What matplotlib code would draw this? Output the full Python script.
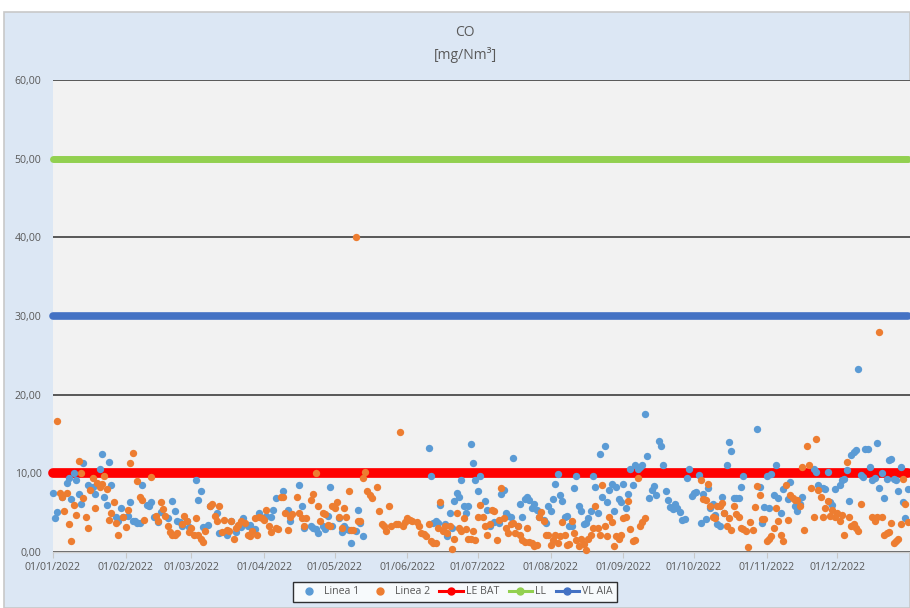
import numpy as np
import pandas as pd
import matplotlib
matplotlib.use("Agg")
import matplotlib.pyplot as plt
import matplotlib.dates as mdates
from matplotlib.lines import Line2D
from matplotlib.patches import Rectangle

plt.rcParams['font.family'] = ['Open Sans', 'DejaVu Sans']

# ---------------- data ----------------
YEAR_START = "2022-01-01"
AXIS_END = "2023-01-01"

# Linea 1 (day of year offset from 01/01/2022, value mg/Nm3)
linea1_day = [0, 1, 2, 4, 6, 7, 8, 9, 10, 11, 12, 13, 15, 17, 18, 20, 21, 22, 23, 24, 25, 27, 28, 29, 30,
              32, 33, 34, 35, 36, 37, 38, 40, 41, 42, 43, 45, 46, 49, 51, 52, 53, 54, 55, 57, 58,
              61, 62, 63, 64, 66, 67, 70, 71, 74, 76, 78, 80, 81, 83, 84, 86, 88, 91, 93, 94, 95, 98,
              100, 101, 105, 106, 107, 110, 111, 112, 113, 115, 116, 117, 118,
              119, 122, 123, 124, 125, 126, 127, 129, 130, 131, 132,
              160, 161, 162, 163, 164, 165, 167, 168, 169, 170, 171, 172, 173, 174, 175, 176, 177, 178,
              179, 180, 181, 182, 184, 185, 186, 188, 190, 191, 192, 193, 194, 195, 196, 198, 199, 200,
              201, 202, 203, 204, 205, 206, 207, 209, 210, 211, 212, 213, 214, 215, 216, 217, 218, 219,
              220, 221, 222, 223, 224, 225, 226, 227, 228, 229, 230, 231, 232, 233, 234, 235, 236, 237,
              238, 239, 240, 241, 242, 243, 244, 245, 246, 247, 248, 249, 250, 251, 252, 253, 254, 255,
              256, 257, 258, 259, 260, 261, 262, 263, 264, 265, 266, 267, 268, 269, 270, 271, 272, 273,
              274, 275, 276, 277, 278, 279, 280, 281, 282, 283, 284, 285, 286, 287, 288, 289, 290, 291,
              292, 293, 294, 300, 301, 302, 303, 304,
              305, 306, 307, 308, 309, 310, 311, 313, 314, 316, 317, 318, 319, 324, 325, 326, 328, 329,
              330, 331, 332, 333, 335, 336, 337, 338, 339, 340, 341, 342, 343, 344, 345, 346, 347, 348,
              349, 350, 351, 352, 353, 354, 355, 356, 357, 358, 359, 360, 361, 362, 363, 364]
linea1_val = [7.5, 4.3, 5.1, 7.0, 8.8, 9.4, 6.7, 10.0, 9.1, 7.4, 6.1, 11.3, 8.5, 8.2, 7.4, 10.5, 12.5, 7.0, 6.0, 11.4, 8.5, 4.4, 4.0, 5.6, 4.4,
              4.6, 6.4, 4.0, 3.9, 3.7, 3.7, 8.5, 6.0, 5.8, 6.4, 4.4, 3.8, 5.1, 4.3, 6.5, 5.2, 4.0, 3.8, 3.3, 3.9, 3.2,
              9.2, 6.6, 7.8, 3.2, 3.4, 5.8, 4.9, 2.4, 2.2, 4.0, 2.6, 3.2, 4.3, 3.3, 3.4, 2.9, 4.9, 4.6, 4.4, 5.3, 6.9, 7.8,
              5.4, 4.0, 8.5, 5.8, 3.1, 3.3, 3.1, 2.9, 2.4, 3.3, 2.9, 4.6, 8.2,
              3.3, 4.3, 2.6, 3.3, 2.9, 2.8, 1.1, 2.7, 5.4, 3.7, 2.0,
              13.2, 9.6, 3.7, 3.9, 3.7, 6.0, 3.5, 2.0, 4.9, 3.1, 6.5, 7.5, 7.0, 9.1, 5.8, 4.9, 5.8, 13.7,
              11.3, 9.1, 7.8, 9.6, 6.5, 5.4, 3.3, 3.8, 3.7, 7.4, 7.9, 4.9, 4.6, 4.5, 11.9, 3.3, 6.1, 4.5,
              6.8, 7.0, 6.6, 5.6, 6.1, 5.4, 4.5, 4.1, 3.7, 5.8, 5.2, 6.8, 8.6, 9.9, 7.2, 6.5, 4.4, 4.6,
              3.3, 3.3, 8.1, 9.6, 5.8, 5.2, 3.5, 3.7, 4.3, 5.2, 9.6, 8.2, 4.9, 12.5, 7.0, 13.5, 6.4, 7.9,
              8.7, 5.2, 8.2, 6.8, 6.4, 8.6, 5.6, 7.4, 10.6, 8.5, 11.1, 10.5, 10.8, 11.1, 17.6, 12.2, 6.9, 7.9,
              8.4, 7.3, 14.1, 13.5, 11.1, 7.7, 6.6, 5.7, 5.5, 6.1, 5.6, 5.1, 4.1, 4.2, 9.4, 10.6, 7.1, 7.5,
              7.6, 9.8, 3.7, 7.4, 4.2, 8.1, 5.6, 6.1, 4.7, 3.5, 3.3, 7.0, 5.0, 11.1, 14.0, 12.8, 6.9, 6.9,
              6.9, 8.2, 9.6, 15.6, 8.3, 3.7, 5.7, 9.7,
              5.6, 9.9, 7.2, 11.1, 6.9, 5.0, 8.0, 6.8, 8.9, 5.8, 5.2, 6.1, 7.0, 10.5, 10.2, 8.5, 8.1, 8.0,
              10.2, 6.3, 6.0, 8.0, 8.5, 9.1, 9.3, 10.4, 6.5, 12.3, 12.7, 13.0, 23.3, 9.8, 9.5, 13.1, 13.1, 10.8,
              9.1, 9.4, 13.9, 8.1, 10.0, 6.9, 9.3, 11.7, 11.8, 9.3, 9.1, 7.7, 10.8, 6.4, 4.3, 8.0]

# Linea 2
linea2_day = [2, 3, 4, 5, 6, 7, 8, 9, 10, 11, 12, 13, 14, 15, 16, 17, 18, 19, 20, 21, 22, 23, 24, 25, 26, 27, 28,
              30, 31, 32, 33, 34, 36, 37, 38, 39, 42, 44, 45, 46, 47, 48, 49, 50, 51, 52, 53, 55, 56, 57, 58,
              59, 60, 61, 62, 63, 64, 65, 67, 68, 69, 70, 71, 72, 73, 74, 75, 76, 77, 78, 79, 80, 82, 83, 84,
              85, 86, 87, 88, 89, 90, 91, 92, 93, 95, 96, 97, 98, 99, 100, 101, 102, 104, 105, 106, 107, 108,
              110, 111, 112, 113, 114, 115, 116, 117, 118, 119, 120,
              121, 122, 123, 124, 125, 126, 127, 128, 129, 130, 131, 132, 133, 134, 135, 136, 138, 139, 140,
              141, 142, 143, 144, 146, 147, 148, 149, 150, 151, 152, 153, 155, 156, 157, 158, 159, 160, 161,
              162, 163, 164, 165, 166, 167, 168, 169, 170, 171, 172, 173, 174, 175, 176, 177, 178, 179, 180,
              181, 182, 183, 184, 185, 186, 187, 188, 189, 190, 191, 192, 193, 194, 195, 196, 197, 198, 199,
              200, 201, 202, 203, 204, 205, 206, 207, 208, 209, 210, 211, 212, 213, 214, 215, 216, 217, 218,
              219, 220, 221, 222, 223, 224, 225, 226, 227, 228, 229, 230, 231, 232, 233, 234, 235, 236, 237,
              238, 239, 240, 241, 242, 243, 244, 245, 246, 247, 248, 249, 250, 251, 252,
              276, 277, 278, 279, 280, 281, 282, 283, 284, 285, 286, 287, 288, 289, 290, 291, 292, 293, 294,
              295, 296, 297, 298, 299, 300, 301, 302, 303, 304, 305,
              306, 307, 308, 309, 310, 311, 312, 313, 314, 315, 316, 317, 318, 319, 320, 321, 322, 323, 324,
              325, 326, 327, 328, 329, 330, 331, 332, 333, 334, 335, 336, 337, 338, 339, 340, 341, 342, 343,
              344, 349, 350, 351, 352, 353, 354, 355, 356, 357, 358, 359, 360, 361, 362, 363, 364]
linea2_val = [16.6, 7.5, 7.0, 5.2, 7.5, 3.6, 1.4, 6.0, 4.7, 11.6, 10.1, 6.9, 4.4, 3.1, 7.9, 9.4, 5.6, 8.8, 8.3, 8.6, 9.6, 8.0, 4.1, 4.9, 6.3, 3.7, 2.1,
              4.5, 3.2, 5.3, 11.3, 12.6, 9.0, 7.0, 6.6, 4.1, 9.5, 4.6, 4.0, 6.3, 5.5, 4.6, 3.3, 2.6, 2.1, 2.2, 2.4, 3.6, 4.6, 4.0, 2.6,
              3.1, 2.1, 4.3, 2.1, 1.7, 1.3, 2.7, 5.8, 6.1, 4.6, 4.0, 5.8, 2.6, 4.1, 2.8, 2.7, 4.0, 1.6, 3.0, 3.4, 4.0, 3.7, 2.2, 2.0,
              2.7, 4.3, 2.1, 4.4, 4.3, 4.1, 5.4, 3.3, 2.6, 3.0, 2.9, 7.0, 7.0, 4.9, 2.8, 4.5, 4.8, 7.0, 4.9, 4.3, 3.3, 4.3,
              6.6, 7.4, 10.1, 5.8, 4.0, 4.9, 4.8, 3.4, 3.3, 5.8, 5.6,
              6.4, 4.4, 3.1, 5.6, 4.4, 7.7, 2.8, 2.8, 40.0, 4.0, 3.9, 9.4, 10.2, 7.7, 7.3, 6.9, 8.2, 5.2, 3.5,
              3.3, 2.7, 5.8, 3.3, 3.5, 3.6, 15.2, 3.3, 3.8, 4.3, 4.1, 4.0, 3.8, 3.3, 2.4, 2.3, 2.0, 3.5, 1.4,
              1.2, 1.1, 3.1, 6.4, 2.7, 3.3, 2.4, 3.3, 0.4, 1.7, 4.9, 3.1, 2.7, 4.3, 2.9, 1.7, 1.7, 2.7, 1.5,
              4.4, 6.0, 4.5, 3.3, 2.1, 3.5, 5.4, 5.2, 1.5, 4.1, 8.1, 4.3, 3.1, 2.4, 3.5, 3.7, 2.4, 3.3, 2.1,
              1.5, 1.3, 3.1, 1.3, 1.2, 0.7, 0.9, 4.4, 5.1, 3.9, 2.2, 2.1, 0.9, 1.5, 2.2, 1.2, 2.0, 3.8, 2.1,
              0.9, 1.0, 4.0, 2.4, 1.5, 0.7, 1.6, 1.0, 0.3, 1.7, 2.1, 3.1, 5.8, 3.1, 2.1, 8.5, 3.3, 2.0, 4.5,
              3.8, 0.7, 2.0, 1.6, 2.2, 4.3, 4.5, 6.5, 2.9, 1.4, 1.5, 9.4, 3.3, 3.8, 4.3,
              9.1, 6.8, 6.6, 8.7, 5.8, 4.4, 4.3, 5.8, 5.8, 6.2, 4.9, 3.3, 4.3, 2.8, 5.8, 4.8, 4.5, 3.1, 2.9,
              2.7, 0.6, 3.8, 2.8, 5.7, 8.4, 7.2, 4.2, 4.2, 1.4, 1.6,
              2.0, 3.1, 5.6, 3.9, 2.1, 1.4, 8.5, 4.1, 7.2, 6.9, 6.6, 6.6, 5.8, 10.8, 2.8, 13.5, 11.0, 8.1, 4.5,
              14.4, 7.9, 7.0, 4.4, 5.6, 6.5, 4.6, 5.3, 4.4, 4.9, 3.9, 4.7, 2.2, 11.4, 4.4, 3.3, 3.5, 3.1, 2.7,
              6.1, 4.4, 4.0, 4.4, 28.0, 4.5, 2.1, 2.4, 2.5, 3.7, 1.1, 1.4, 1.6, 3.5, 9.3, 6.1, 3.8]

# limit values
LE_BAT = 10.0
LL = 50.0
VL_AIA = 30.0

series_labels = ["Linea 1", "Linea 2", "LE BAT", "LL", "VL AIA"]
y_ticks = [0, 10, 20, 30, 40, 50, 60]
title_lines = ["CO", "[mg/Nm³]"]

# ---------------- styles ----------------
C_L1 = "#5b9bd5"
C_L2 = "#ed7d31"
C_BAT = "#ff0000"
C_LL = "#92d050"
C_VL = "#4472c4"
TXT = "#595959"

W, H = 910, 608
fig = plt.figure(figsize=(W / 100, H / 100), dpi=100)
fig.patch.set_facecolor("white")
fig.add_artist(Rectangle((4 / W, 0), (W - 4) / W, 1 - 12 / H, transform=fig.transFigure,
                         facecolor="#dce7f4", edgecolor="#c8c8c8", lw=1.2, zorder=0))

ax = fig.add_axes([52.7 / W, 1 - 552 / H, (W - 52.7) / W, (552 - 80) / H])
ax.set_facecolor("#f2f2f2")


def to_dates(days):
    return pd.Timestamp(YEAR_START) + pd.to_timedelta(np.asarray(days), unit="D")


all_days = pd.date_range(YEAR_START, "2022-12-31", freq="D")
ax.plot(all_days, np.full(len(all_days), LE_BAT), color=C_BAT, lw=7.0,
        solid_capstyle="round", zorder=2, clip_on=False)
ax.plot(all_days, np.full(len(all_days), LL), color=C_LL, lw=5.0,
        solid_capstyle="round", zorder=2, clip_on=False)
ax.plot(all_days, np.full(len(all_days), VL_AIA), color=C_VL, lw=5.5,
        solid_capstyle="round", zorder=2, clip_on=False)

ax.scatter(to_dates(linea1_day), linea1_val, s=28, color=C_L1, lw=0, zorder=3, clip_on=False)
ax.scatter(to_dates(linea2_day), linea2_val, s=28, color=C_L2, lw=0, zorder=4, clip_on=False)

ax.set_xlim(pd.Timestamp(YEAR_START), pd.Timestamp(AXIS_END))
ax.set_ylim(0, 60)
ax.set_yticks(y_ticks)
ax.set_yticklabels([f"{v:.2f}".replace(".", ",") for v in y_ticks])
ax.set_xticks(pd.date_range(YEAR_START, "2022-12-01", freq="MS"))
ax.xaxis.set_major_formatter(mdates.DateFormatter("%d/%m/%Y"))

ax.yaxis.grid(True, color="#2e2e2e", lw=1.1)
ax.set_axisbelow(True)
for s in ["top", "right", "left"]:
    ax.spines[s].set_visible(False)
ax.spines["bottom"].set_color("#d0d0d0")
ax.spines["bottom"].set_linewidth(1.0)
ax.tick_params(axis="y", length=0, pad=8, labelsize=7.6, labelcolor=TXT)
ax.tick_params(axis="x", length=4, color="#c8c8c8", pad=3, labelsize=7.6, labelcolor=TXT)

fig.text(465 / W, 1 - 33 / H, title_lines[0], ha="center", va="center", fontsize=10, color=TXT)
fig.text(465 / W, 1 - 55 / H, title_lines[1], ha="center", va="center", fontsize=10, color=TXT)

handles = [
    Line2D([], [], ls="none", marker="o", ms=5, color=C_L1),
    Line2D([], [], ls="none", marker="o", ms=5, color=C_L2),
    Line2D([], [], color=C_BAT, lw=2.2, marker="o", ms=5),
    Line2D([], [], color=C_LL, lw=2.2, marker="o", ms=5),
    Line2D([], [], color=C_VL, lw=2.2, marker="o", ms=5),
]
leg = fig.legend(handles, series_labels, loc="center", bbox_to_anchor=(455 / W, 1 - 592 / H),
                 ncol=5, frameon=True, fancybox=False, fontsize=7.6, handlelength=2.2,
                 columnspacing=0.9, handletextpad=0.3, borderpad=0.4, borderaxespad=0,
                 labelcolor=TXT)
leg.get_frame().set_edgecolor("black")
leg.get_frame().set_linewidth(1.0)
leg.get_frame().set_facecolor("white")

fig.savefig("out.png", dpi=100, facecolor=fig.get_facecolor())
